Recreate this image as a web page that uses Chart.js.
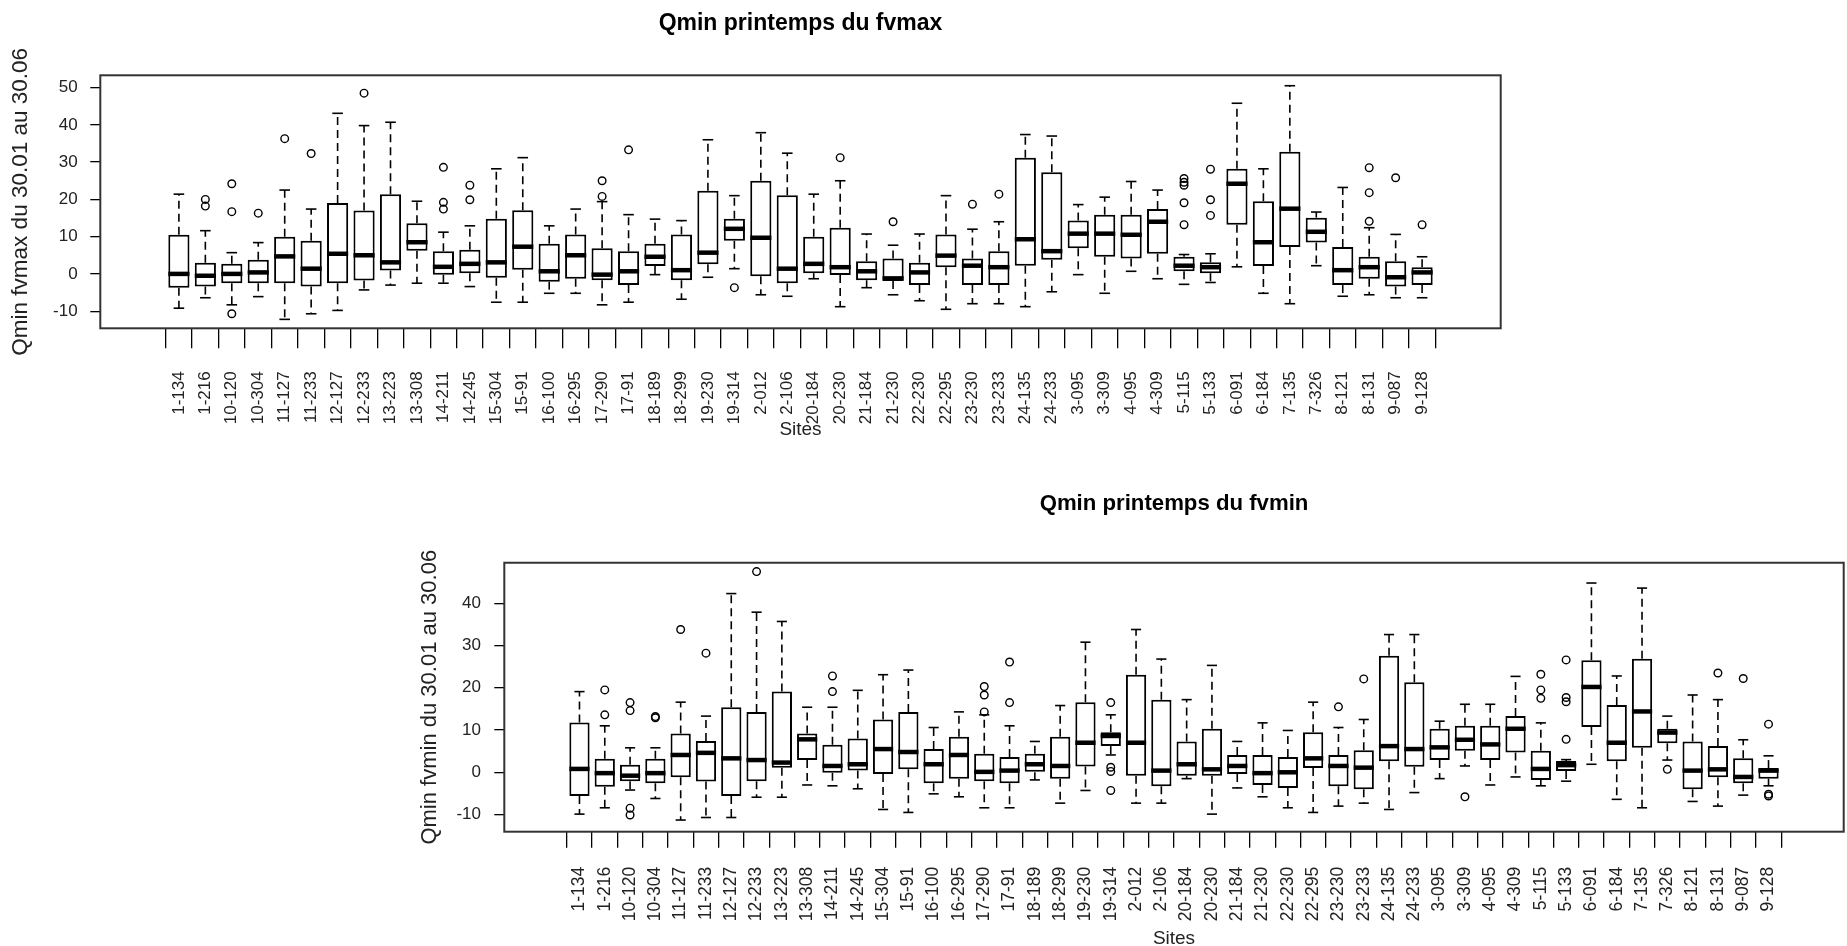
<!DOCTYPE html>
<html>
<head>
<meta charset="utf-8">
<script src="https://cdn.jsdelivr.net/npm/chart.js@4.4.1/dist/chart.umd.min.js"></script>
<style>
  html, body { margin: 0; padding: 0; background: #fff; width: 1847px; height: 946px; overflow: hidden; }
  .panel { position: absolute; }
</style>
</head>
<body>
<div class="panel" style="left:0px; top:0px; width:1601px; height:470px;"><canvas id="chartMax"></canvas></div>
<div class="panel" style="left:400px; top:470px; width:1548px; height:486px;"><canvas id="chartMin"></canvas></div>
<script>
// Sites (x categories), shared by both panels
const sites = ['1-134','1-216','10-120','10-304','11-127','11-233','12-127','12-233','13-223','13-308',
  '14-211','14-245','15-304','15-91','16-100','16-295','17-290','17-91','18-189','18-299',
  '19-230','19-314','2-012','2-106','20-184','20-230','21-184','21-230','22-230','22-295',
  '23-230','23-233','24-135','24-233','3-095','3-309','4-095','4-309','5-115','5-133',
  '6-091','6-184','7-135','7-326','8-121','8-131','9-087','9-128'];

// Qmin printemps du fvmax : whisker ends, quartiles, medians, outliers
const fvmaxLow  = [-9.2,-6.4,-8.3,-6.1,-12.2,-10.7,-9.8,-4.3,-3.0,-2.5,-2.5,-3.4,-7.6,-7.6,-5.2,-5.2,-8.3,-7.6,-0.2,-6.8,
  -0.9,1.4,-5.6,-6.0,-1.3,-8.8,-3.7,-5.6,-7.2,-9.5,-8.0,-8.0,-8.8,-4.8,-0.2,-5.2,0.7,-1.3,-2.8,-2.3,
  1.9,-5.2,-8.0,2.2,-6.0,-5.6,-6.4,-6.4];
const fvmaxQ1   = [-3.7,-3.4,-2.5,-2.5,-2.5,-3.4,-2.5,-1.8,0.9,6.2,-0.2,0.2,-1.0,1.1,-2.1,-1.3,-1.7,-3.0,2.1,-1.7,
  2.6,8.9,-0.6,-2.5,0.2,-0.3,-1.7,-1.9,-3.0,1.8,-3.0,-3.0,2.2,3.8,6.9,4.6,4.1,5.4,0.7,0.2,
  13.2,2.1,7.2,8.4,-3.0,-1.3,-3.4,-3.0];
const fvmaxMed  = [0,-0.5,0,0.4,4.7,1.4,5.4,5.0,3.1,8.5,1.9,2.7,3.1,7.3,0.7,5.0,-0.2,0.7,4.6,1.0,
  5.7,12.1,9.7,1.4,2.7,1.8,0.7,-1.2,0.4,4.9,2.2,1.8,9.3,6.1,10.8,10.8,10.5,14.0,2.2,1.8,
  24.2,8.5,17.5,11.3,1.0,1.8,-0.9,0.4];
const fvmaxQ3   = [10.5,3.0,2.7,3.8,10.0,8.9,19.0,17.0,21.4,13.6,6.1,6.5,14.8,17.1,8.1,10.6,6.9,6.1,8.1,10.6,
  22.3,14.8,25.0,21.1,10.0,12.4,3.4,4.1,3.0,10.6,4.1,6.1,31.2,27.3,14.3,15.9,15.9,17.4,4.6,3.1,
  28.2,19.5,32.8,15.1,7.2,4.6,3.4,1.8];
const fvmaxHigh = [21.4,11.6,5.7,8.4,22.5,17.4,43.1,39.8,40.7,19.5,11.2,12.9,28.2,31.2,12.9,17.4,19.4,15.9,14.7,14.3,
  36.0,21.0,37.9,32.4,21.4,25.0,10.7,7.7,10.7,21.0,12.0,14.0,37.4,37.0,18.6,20.6,24.8,22.5,5.2,5.4,
  45.8,28.2,50.5,16.6,23.2,12.4,10.6,4.6];
const fvmaxOut  = [[],[20.0,18.2],[24.2,16.7,-10.7],[16.3],[36.3],[32.3],[],[48.5],[],[],
  [28.6,19.2,17.4],[23.8,19.9],[],[],[],[],[25.0,20.8],[33.3],[],[],
  [],[-3.7],[],[],[],[31.2],[],[14.0],[],[],[18.7],[21.4],[],[],[],[],[],[],
  [25.6,24.6,23.8,19.1,13.2],[28.1,19.9,15.7],[],[],[],[],[],[28.5,21.8,14.1],[25.8],[13.2]];

// Qmin printemps du fvmin
const fvminLow  = [-9.9,-8.4,-4.2,-6.2,-11.3,-10.7,-10.7,-5.9,-5.9,-3.0,-3.2,-3.9,-8.8,-9.5,-5.1,-5.8,-8.4,-8.4,-1.8,-7.3,
  -4.3,4.1,-7.3,-7.3,-1.5,-9.9,-3.7,-5.8,-8.4,-9.5,-8.0,-7.3,-8.8,-4.8,-1.5,1.5,-3.0,-1.1,-3.2,-2.1,
  1.9,-6.4,-8.4,2.9,-6.9,-8.0,-5.4,-3.2];
const fvminQ1   = [-5.6,-3.4,-2.1,-2.6,-1.2,-2.2,-5.6,-2.1,1.1,2.9,-0.1,0.4,-0.4,0.7,-2.6,-1.5,-2.1,-2.6,0.0,-1.5,
  1.4,6.2,-0.8,-3.3,-0.8,-0.8,-0.4,-3.0,-3.7,1.0,-3.3,-4.0,2.6,1.3,2.9,5.1,2.9,4.7,-1.8,0.3,
  10.7,2.6,5.8,6.9,-4.0,-1.2,-2.6,-1.5];
const fvminMed  = [0.8,-0.2,-0.8,-0.2,4.1,4.6,3.3,2.9,2.3,7.8,1.5,1.9,5.5,4.8,1.9,4.1,0.1,0.4,1.9,1.5,
  7.0,8.6,7.0,0.4,1.9,0.7,1.5,-0.2,0.0,3.3,1.5,1.1,6.2,5.5,5.9,7.7,6.6,10.3,0.8,1.7,
  20.2,7.0,14.4,9.4,0.4,0.7,-1.1,0.4];
const fvminQ3   = [11.8,3.2,1.8,3.2,9.2,7.4,15.4,14.3,19.1,9.2,6.5,8.0,12.5,14.3,5.5,8.4,4.4,3.6,4.4,8.4,
  16.6,9.5,23.1,17.2,7.3,10.3,4.1,4.1,3.6,9.5,4.1,5.2,27.6,21.3,10.3,11.0,11.0,13.3,5.1,2.7,
  26.5,15.9,26.9,10.3,7.3,6.2,3.3,1.0];
const fvminHigh = [19.1,11.0,5.8,5.8,16.6,13.3,42.3,37.9,35.7,15.4,15.4,19.4,23.1,24.2,10.6,14.3,13.6,11.0,7.3,15.8,
  30.8,13.6,33.8,26.8,17.2,25.3,7.3,11.7,9.9,16.6,10.6,12.5,32.6,32.6,12.1,16.1,16.1,22.7,11.7,3.0,
  44.8,22.8,43.6,13.3,18.3,17.2,7.7,3.9];
const fvminOut  = [[],[19.5,13.6],[16.5,14.6,-8.5,-10.1],[13.2,12.9],[33.8],[28.2],[],[47.5],[],[],
  [22.8,19.1],[],[],[],[],[],[20.3,18.3,14.3],[26.1,16.5],[],[],
  [],[16.5,1.2,0.2,-4.3],[],[],[],[],[],[],[],[],[15.5],[22.1],[],[],[],[-5.8],[],[],
  [23.2,19.5,17.5],[26.6,17.7,16.7,7.8],[],[],[],[0.7],[],[23.5],[22.2],[11.4,-5.2,-5.6]];

// Value-axis tick labels
const yTicksFvmax = [-10, 0, 10, 20, 30, 40, 50];
const yTicksFvmin = [-10, 0, 10, 20, 30, 40];

const FONT = "'Liberation Sans', Arial, sans-serif";

// Whiskers (dashed), staples and medians drawn on the library's scales
const boxWhiskers = {
  id: 'boxWhiskers',
  afterDatasetsDraw(chart, args, o) {
    const { ctx, scales: { x, y } } = chart;
    const halfBox = x.getPixelForValue(0.4) - x.getPixelForValue(0);
    const halfCap = x.getPixelForValue(0.2) - x.getPixelForValue(0);
    const seg = (x0, y0, x1, y1) => { ctx.beginPath(); ctx.moveTo(x0, y0); ctx.lineTo(x1, y1); ctx.stroke(); };
    ctx.save();
    ctx.strokeStyle = '#000';
    o.low.forEach((lo, i) => {
      const px = x.getPixelForValue(i + 1);
      const yLo = y.getPixelForValue(lo), yQ1 = y.getPixelForValue(o.q1[i]);
      const yQ3 = y.getPixelForValue(o.q3[i]), yHi = y.getPixelForValue(o.high[i]);
      const yMed = y.getPixelForValue(o.med[i]);
      ctx.lineWidth = 1.6;
      ctx.setLineDash([8, 5]);
      if (yHi < yQ3) seg(px, yQ3, px, yHi);
      if (yLo > yQ1) seg(px, yQ1, px, yLo);
      ctx.setLineDash([]);
      seg(px - halfCap, yHi, px + halfCap, yHi);
      seg(px - halfCap, yLo, px + halfCap, yLo);
      ctx.lineWidth = 4.5;
      seg(px - halfBox, yMed, px + halfBox, yMed);
    });
    ctx.restore();
  }
};

// Frame around the plotting region
const plotFrame = {
  id: 'plotFrame',
  afterDraw(chart) {
    const { ctx, chartArea: a } = chart;
    ctx.save();
    ctx.strokeStyle = '#333';
    ctx.lineWidth = 2;
    ctx.strokeRect(a.left, a.top, a.right - a.left, a.bottom - a.top);
    ctx.restore();
  }
};

function boxChart(canvasId, cfg) {
  const outPts = [];
  cfg.out.forEach((list, i) => list.forEach(v => outPts.push({ x: i + 1, y: v })));
  return new Chart(document.getElementById(canvasId), {
    type: 'bar',
    data: {
      datasets: [
        {
          type: 'bar',
          data: sites.map((s, i) => ({ x: i + 1, y: [cfg.q1[i], cfg.q3[i]] })),
          backgroundColor: '#fff',
          borderColor: '#000',
          borderWidth: 2,
          borderSkipped: false,
          barPercentage: 0.8,
          categoryPercentage: 1,
          order: 2
        },
        {
          type: 'scatter',
          data: outPts,
          pointStyle: 'circle',
          pointRadius: 3.8,
          borderColor: '#000',
          borderWidth: 1.4,
          backgroundColor: 'rgba(0,0,0,0)',
          order: 1
        }
      ]
    },
    options: {
      responsive: true,
      maintainAspectRatio: false,
      animation: false,
      events: [],
      layout: { padding: 0 },
      plugins: {
        legend: { display: false },
        tooltip: { enabled: false },
        title: {
          display: true,
          text: cfg.title,
          color: '#000',
          font: { family: FONT, size: cfg.titleSize, weight: 'bold' },
          padding: cfg.titlePad
        },
        boxWhiskers: { low: cfg.low, q1: cfg.q1, med: cfg.med, q3: cfg.q3, high: cfg.high }
      },
      scales: {
        x: {
          type: 'linear',
          min: -1.42,
          max: 50.42,
          afterBuildTicks: s => { s.ticks = sites.map((_, i) => ({ value: i + 1 })); },
          afterFit: s => { s.height = cfg.xAxisHeight; },
          ticks: {
            autoSkip: false,
            minRotation: 90,
            maxRotation: 90,
            padding: cfg.xTickPad,
            color: '#222',
            font: { family: FONT, size: cfg.xTickSize },
            callback: (v, idx) => sites[idx]
          },
          grid: { display: true, drawOnChartArea: false, drawTicks: true, tickLength: cfg.xTickLen, color: '#000', lineWidth: 1.3 },
          border: { display: false },
          title: {
            display: true,
            text: 'Sites',
            color: '#222',
            font: { family: FONT, size: 19 },
            padding: { top: 0, bottom: cfg.sitesPad }
          }
        },
        y: {
          type: 'linear',
          position: 'left',
          min: cfg.yMin,
          max: cfg.yMax,
          afterBuildTicks: s => { s.ticks = cfg.yTicks.map(v => ({ value: v })); },
          afterFit: s => { s.width = cfg.yAxisWidth; },
          ticks: { padding: cfg.yTickPad, color: '#222', font: { family: FONT, size: 17 } },
          grid: { display: true, drawOnChartArea: false, drawTicks: true, tickLength: 10, color: '#000', lineWidth: 1.3 },
          border: { display: false },
          title: {
            display: true,
            text: cfg.yTitle,
            color: '#222',
            font: { family: FONT, size: cfg.yTitleSize },
            padding: { top: cfg.yTitlePad, bottom: 0 }
          }
        },
        // empty right-hand margin, same width as the value axis, so the title centres over the plot
        margin: {
          type: 'linear',
          position: 'right',
          display: true,
          afterFit: s => { s.width = cfg.yAxisWidth; },
          ticks: { display: false },
          grid: { display: false },
          border: { display: false }
        }
      }
    },
    plugins: [boxWhiskers, plotFrame]
  });
}

boxChart('chartMax', {
  title: 'Qmin printemps du fvmax', titleSize: 23,
  yTitle: 'Qmin fvmax du 30.01 au 30.06', yTitleSize: 22.5,
  low: fvmaxLow, q1: fvmaxQ1, med: fvmaxMed, q3: fvmaxQ3, high: fvmaxHigh, out: fvmaxOut,
  yTicks: yTicksFvmax, yMin: -14.6, yMax: 53.3,
  titlePad: { top: 10, bottom: 37.7 },
  yAxisWidth: 100.3, xAxisHeight: 141.7,
  xTickLen: 20, xTickPad: 23, xTickSize: 17, yTickPad: 12.7, yTitlePad: 7.2, sitesPad: 28.6
});

boxChart('chartMin', {
  title: 'Qmin printemps du fvmin', titleSize: 22.2,
  yTitle: 'Qmin fvmin du 30.01 au 30.06', yTitleSize: 22,
  low: fvminLow, q1: fvminQ1, med: fvminMed, q3: fvminQ3, high: fvminHigh, out: fvminOut,
  yTicks: yTicksFvmin, yMin: -14.06, yMax: 49.6,
  titlePad: { top: 20.7, bottom: 45.4 },
  yAxisWidth: 104.3, xAxisHeight: 124.3,
  xTickLen: 16, xTickPad: 19, xTickSize: 17.5, yTickPad: 13.3, yTitlePad: 17.2, sitesPad: 5.6
});
</script>
</body>
</html>
